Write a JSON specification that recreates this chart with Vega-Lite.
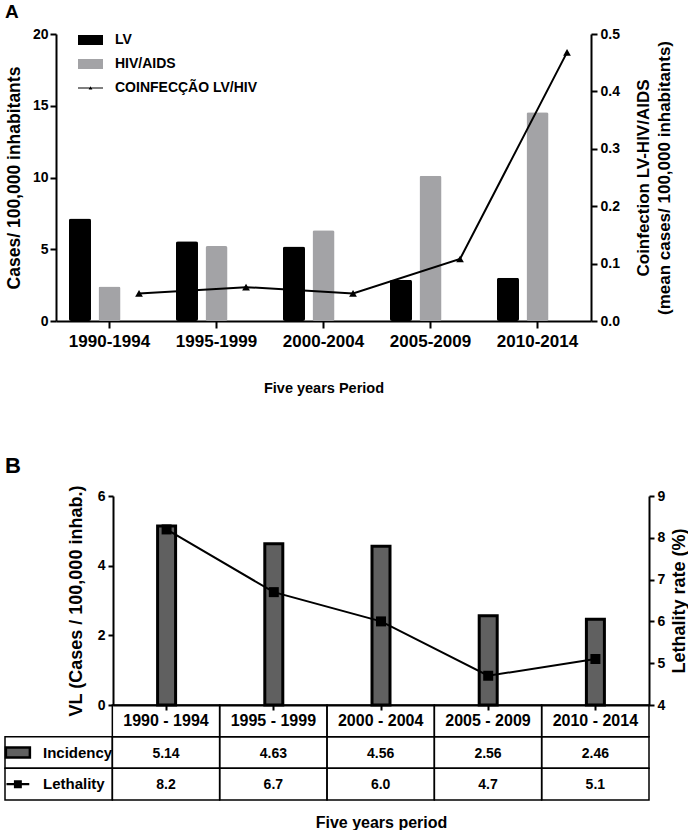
{
  "$schema": "https://vega.github.io/schema/vega-lite/v6.json",
  "background": "white",
  "padding": {"left": 0, "top": 3, "right": 0, "bottom": 0},
  "config": {
    "font": "Liberation Sans",
    "view": {"stroke": null},
    "axis": {"domainColor": "#000", "domainWidth": 2, "tickColor": "#000", "tickWidth": 2, "labelColor": "#000", "labelFont": "Liberation Sans", "labelFontWeight": "bold", "labelFontSize": 14, "titleColor": "#000", "titleFont": "Liberation Sans", "titleFontWeight": "bold", "titleFontSize": 17, "grid": false},
    "text": {"font": "Liberation Sans", "fontWeight": "bold", "color": "#000"},
    "title": {"font": "Liberation Sans", "fontWeight": "bold", "color": "#000", "anchor": "start", "frame": "group"}
  },
  "datasets": {
    "a_bars": [
      {"period": "1990-1994", "series": "LV", "value": 7.15},
      {"period": "1990-1994", "series": "HIV/AIDS", "value": 2.4},
      {"period": "1995-1999", "series": "LV", "value": 5.55},
      {"period": "1995-1999", "series": "HIV/AIDS", "value": 5.22},
      {"period": "2000-2004", "series": "LV", "value": 5.2},
      {"period": "2000-2004", "series": "HIV/AIDS", "value": 6.33},
      {"period": "2005-2009", "series": "LV", "value": 2.88},
      {"period": "2005-2009", "series": "HIV/AIDS", "value": 10.12},
      {"period": "2010-2014", "series": "LV", "value": 3.02},
      {"period": "2010-2014", "series": "HIV/AIDS", "value": 14.55}
    ],
    "a_coinf": [
      {"period": "1990-1994", "coinf": 0.048},
      {"period": "1995-1999", "coinf": 0.059},
      {"period": "2000-2004", "coinf": 0.048},
      {"period": "2005-2009", "coinf": 0.108},
      {"period": "2010-2014", "coinf": 0.468}
    ],
    "b": [
      {"period": "1990 - 1994", "incidency": 5.14, "lethality": 8.2},
      {"period": "1995 - 1999", "incidency": 4.63, "lethality": 6.7},
      {"period": "2000 - 2004", "incidency": 4.56, "lethality": 6.0},
      {"period": "2005 - 2009", "incidency": 2.56, "lethality": 4.7},
      {"period": "2010 - 2014", "incidency": 2.46, "lethality": 5.1}
    ],
    "rowlabels": [
      {"label": "Incidency"},
      {"label": "Lethality"}
    ]
  },
  "bounds": "flush",
  "spacing": 175,
  "vconcat": [
    {
      "width": 586,
      "height": 287,
      "title": {"text": "A", "fontSize": 19, "offset": 5},
      "layer": [
        {
          "data": {"name": "a_bars"},
          "mark": {"type": "bar", "cornerRadius": 2},
          "encoding": {
            "x": {"field": "period", "type": "nominal", "sort": null, "scale": {"range": [51, 586], "paddingInner": 0, "paddingOuter": 0},
              "axis": {"title": "Five years Period", "titleFontSize": 14.5, "labelFontSize": 17, "labelAngle": 0, "tickSize": 7, "labelPadding": 5, "titlePadding": 32}},
            "xOffset": {"field": "series", "type": "nominal", "scale": {"domain": ["LV", "HIV/AIDS", "COINFECÇÃO LV/HIV"], "paddingInner": 0.254, "paddingOuter": 0.44}},
            "y": {"field": "value", "type": "quantitative", "scale": {"domain": [0, 20]},
              "axis": {"offset": -51, "title": "Cases/ 100,000 inhabitants", "titleFontSize": 17.5, "values": [0, 5, 10, 15, 20], "tickSize": 6, "labelPadding": 2, "titlePadding": 9}},
            "color": {"field": "series", "type": "nominal",
              "scale": {"domain": ["LV", "HIV/AIDS", "COINFECÇÃO LV/HIV"], "range": ["#000000", "#a3a3a6", "#000000"]},
              "legend": {"orient": "none", "legendX": 73, "legendY": -6.5, "title": null, "symbolSize": 625, "labelOffset": 12, "rowPadding": 4, "padding": 0,
                "labelFontSize": 14, "labelFontWeight": "bold", "labelFont": "Liberation Sans", "labelColor": "#000", "symbolStrokeWidth": 0,
                "encode": {"symbols": {"update": {"shape": {"signal": "datum.value === 'COINFECÇÃO LV/HIV' ? 'M-1,-0.04L1,-0.04L1,0.04L-1,0.04Z M-0.15,0.11L0,-0.15L0.15,0.11Z' : 'M-1,-0.4L1,-0.4L1,0.4L-1,0.4Z'"}}}}}
            }
          }
        },
        {
          "data": {"name": "a_coinf"},
          "mark": {"type": "line", "color": "#000", "strokeWidth": 2, "point": {"shape": "triangle-up", "size": 60, "filled": true, "color": "#000"}},
          "encoding": {
            "x": {"field": "period", "type": "nominal", "sort": null, "bandPosition": 0.776},
            "y": {"field": "coinf", "type": "quantitative", "scale": {"domain": [0, 0.5]},
              "axis": {"orient": "right", "title": ["Coinfection LV-HIV/AIDS", "(mean cases/ 100,000 inhabitants)"], "titleAngle": 270, "titleBaseline": "top", "titleLineHeight": 21,
                "values": [0, 0.1, 0.2, 0.3, 0.4, 0.5], "format": ".1f", "tickSize": 6, "labelPadding": 3, "titlePadding": -5}}
          }
        }
      ],
      "resolve": {"scale": {"y": "independent"}}
    },
    {
      "width": 644,
      "height": 304,
      "title": {"text": "B", "fontSize": 22, "offset": 7},
      "layer": [
        {
          "data": {"name": "b"},
          "layer": [
            {
              "mark": {"type": "bar", "width": 18, "fill": "#606060", "stroke": "#000", "strokeWidth": 3},
              "encoding": {
                "x": {"field": "period", "type": "nominal", "sort": null, "scale": {"range": [108, 644], "paddingInner": 0, "paddingOuter": 0},
                  "axis": {"offset": -95, "labels": false, "tickSize": 5, "title": "Five years period", "titleFontSize": 16, "titlePadding": 103}},
                "y": {"field": "incidency", "type": "quantitative", "scale": {"domain": [0, 6], "range": [209, 0]},
                  "axis": {"offset": -108, "title": "VL (Cases / 100,000 inhab.)", "titleFontSize": 18, "values": [0, 2, 4, 6], "tickSize": 5, "labelPadding": 3, "titlePadding": 12}}
              }
            },
            {
              "mark": {"type": "line", "color": "#000", "strokeWidth": 2, "point": {"shape": "square", "size": 100, "filled": true, "color": "#000"}},
              "encoding": {
                "x": {"field": "period", "type": "nominal", "sort": null},
                "y": {"field": "lethality", "type": "quantitative", "scale": {"domain": [4, 9], "range": [209, 0]},
                  "axis": {"orient": "right", "title": "Lethality rate (%)", "titleFontSize": 18, "titleAngle": 270, "titleBaseline": "top", "values": [4, 5, 6, 7, 8, 9], "tickSize": 5, "labelPadding": 3, "titlePadding": 6}}
              }
            }
          ],
          "resolve": {"scale": {"y": "independent"}}
        },
        {
          "layer": [
            {
              "data": {"name": "b"},
              "mark": {"type": "rect", "fillOpacity": 0, "stroke": "#000", "strokeWidth": 1.5},
              "encoding": {
                "x": {"field": "period", "type": "nominal", "scale": {"domain": ["Row", "1990 - 1994", "1995 - 1999", "2000 - 2004", "2005 - 2009", "2010 - 2014"], "range": [0, 644], "paddingInner": 0, "paddingOuter": 0}, "axis": null},
                "y": {"datum": "header", "type": "nominal", "scale": {"domain": ["header", "Incidency", "Lethality"], "range": [209, 304], "paddingInner": 0, "paddingOuter": 0}, "axis": null}
              }
            },
            {
              "data": {"name": "b"},
              "mark": {"type": "rect", "fillOpacity": 0, "stroke": "#000", "strokeWidth": 1.5},
              "encoding": {
                "x": {"field": "period", "type": "nominal", "axis": null},
                "y": {"datum": "Incidency", "type": "nominal", "axis": null}
              }
            },
            {
              "data": {"name": "b"},
              "mark": {"type": "rect", "fillOpacity": 0, "stroke": "#000", "strokeWidth": 1.5},
              "encoding": {
                "x": {"field": "period", "type": "nominal", "axis": null},
                "y": {"datum": "Lethality", "type": "nominal", "axis": null}
              }
            },
            {
              "data": {"name": "rowlabels"},
              "mark": {"type": "rect", "fillOpacity": 0, "stroke": "#000", "strokeWidth": 1.5},
              "encoding": {
                "x": {"datum": "Row", "type": "nominal", "axis": null},
                "y": {"field": "label", "type": "nominal", "axis": null}
              }
            },
            {
              "data": {"name": "b"},
              "mark": {"type": "text", "fontSize": 16, "baseline": "middle"},
              "encoding": {
                "x": {"field": "period", "type": "nominal", "axis": null},
                "y": {"datum": "header", "type": "nominal", "axis": null},
                "text": {"field": "period"}
              }
            },
            {
              "data": {"name": "b"},
              "mark": {"type": "text", "fontSize": 14, "baseline": "middle", "dy": 1},
              "encoding": {
                "x": {"field": "period", "type": "nominal", "axis": null},
                "y": {"datum": "Incidency", "type": "nominal", "axis": null},
                "text": {"field": "incidency", "format": ".2f"}
              }
            },
            {
              "data": {"name": "b"},
              "mark": {"type": "text", "fontSize": 14, "baseline": "middle", "dy": 1},
              "encoding": {
                "x": {"field": "period", "type": "nominal", "axis": null},
                "y": {"datum": "Lethality", "type": "nominal", "axis": null},
                "text": {"field": "lethality", "format": ".1f"}
              }
            },
            {
              "data": {"name": "rowlabels"},
              "mark": {"type": "text", "fontSize": 15, "baseline": "middle", "align": "left"},
              "encoding": {
                "x": {"datum": "Row", "type": "nominal", "bandPosition": 0.354, "axis": null},
                "y": {"field": "label", "type": "nominal", "axis": null},
                "text": {"field": "label"}
              }
            },
            {
              "data": {"values": [{"label": "Incidency"}]},
              "mark": {"type": "point", "filled": true, "size": 576, "fill": "#606060", "stroke": "#000", "strokeWidth": 2.5, "opacity": 1,
                "shape": "M-1,-0.42L1,-0.42L1,0.42L-1,0.42Z"},
              "encoding": {
                "x": {"datum": "Row", "type": "nominal", "bandPosition": 0.12, "axis": null},
                "y": {"field": "label", "type": "nominal", "axis": null}
              }
            },
            {
              "data": {"values": [{"label": "Lethality"}]},
              "mark": {"type": "point", "filled": true, "size": 576, "color": "#000", "opacity": 1,
                "shape": "M-0.95,-0.09L0.95,-0.09L0.95,0.09L-0.95,0.09Z M-0.33,-0.33L0.33,-0.33L0.33,0.33L-0.33,0.33Z"},
              "encoding": {
                "x": {"datum": "Row", "type": "nominal", "bandPosition": 0.12, "axis": null},
                "y": {"field": "label", "type": "nominal", "axis": null}
              }
            }
          ]
        }
      ],
      "resolve": {"scale": {"x": "independent", "y": "independent"}}
    }
  ]
}
